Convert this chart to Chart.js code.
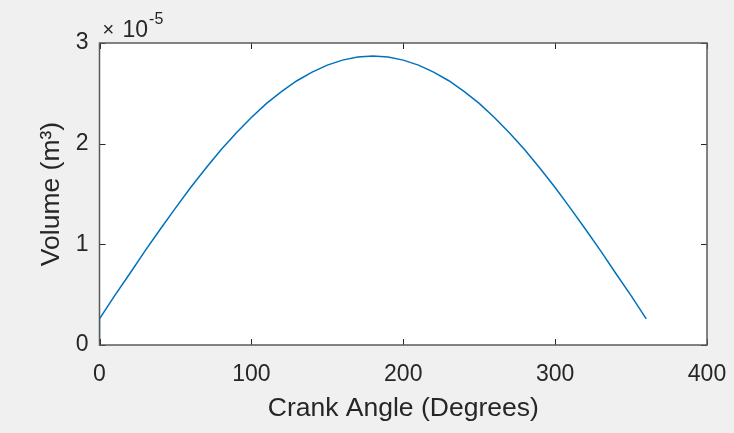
<!DOCTYPE html>
<html>
<head>
<meta charset="utf-8">
<script src="https://cdn.jsdelivr.net/npm/chart.js@4.4.1/dist/chart.umd.min.js"></script>
<style>
  html, body { margin: 0; padding: 0; background: #f0f0f0; }
  #graph1 { display: block; }
</style>
</head>
<body>
<canvas id="graph1" width="734" height="433"></canvas>
<script>
// crank angle in degrees, volume in units of 1e-5 m^3
var angles = [0, 0, 10, 20, 30, 40, 50, 60, 70, 80, 90, 100, 110, 120, 130, 140, 150, 160, 170, 180,
              190, 200, 210, 220, 230, 240, 250, 260, 270, 280, 290, 300, 310, 320, 330, 340, 350, 360];
var volumes = [0, 0.26, 0.49, 0.71, 0.935, 1.15, 1.36, 1.565, 1.755, 1.94, 2.105, 2.26, 2.40, 2.52, 2.625, 2.71, 2.78, 2.83, 2.86, 2.87,
               2.86, 2.83, 2.78, 2.71, 2.625, 2.52, 2.40, 2.26, 2.105, 1.94, 1.755, 1.565, 1.36, 1.15, 0.935, 0.71, 0.49, 0.26];
var xTicks = [0, 100, 200, 300, 400];
var yTicks = [0, 1, 2, 3];

var axisColor = '#262626';
var fontFamily = 'Liberation Sans, Arial, sans-serif';
var tickFont = { family: fontFamily, size: 23 };
var titleFont = { family: fontFamily, size: 26.5 };

var points = angles.map(function (a, i) {
    return { x: a, y: volumes[i] };
});

var matlabAxes = {
    id: 'matlabAxes',
    beforeDraw: function (chart) {
        var ctx = chart.ctx;
        var area = chart.chartArea;
        ctx.save();
        ctx.fillStyle = '#f0f0f0';
        ctx.fillRect(0, 0, chart.width, chart.height);
        ctx.fillStyle = '#ffffff';
        ctx.fillRect(area.left, area.top, area.right - area.left, area.bottom - area.top);
        ctx.restore();
    },
    afterDraw: function (chart) {
        var ctx = chart.ctx;
        var area = chart.chartArea;
        var xs = chart.scales.x;
        var ys = chart.scales.y;
        var len = 6;
        ctx.save();
        ctx.strokeStyle = axisColor;
        ctx.lineWidth = 1;
        ctx.beginPath();
        xTicks.forEach(function (v) {
            var px = Math.round(xs.getPixelForValue(v)) + 0.5;
            ctx.moveTo(px, area.bottom);
            ctx.lineTo(px, area.bottom - len);
            ctx.moveTo(px, area.top);
            ctx.lineTo(px, area.top + len);
        });
        yTicks.forEach(function (v) {
            var py = Math.round(ys.getPixelForValue(v)) + 0.5;
            ctx.moveTo(area.left, py);
            ctx.lineTo(area.left + len, py);
            ctx.moveTo(area.right, py);
            ctx.lineTo(area.right - len, py);
        });
        ctx.stroke();
        ctx.strokeStyle = '#5a5a5a';
        ctx.lineWidth = 1.5;
        ctx.strokeRect(area.left, area.top, area.right - area.left, area.bottom - area.top);

        // exponent label (x10^-5)
        ctx.fillStyle = axisColor;
        ctx.textBaseline = 'alphabetic';
        ctx.textAlign = 'left';
        var base = area.top - 6;
        var x0 = area.left + 3;
        ctx.font = '20px ' + fontFamily;
        ctx.fillText('\u00d7', x0, base - 1);
        ctx.font = '23px ' + fontFamily;
        ctx.fillText('10', x0 + 20, base);
        var w = ctx.measureText('10').width;
        ctx.font = '16px ' + fontFamily;
        ctx.fillText('-5', x0 + 21 + w, base - 13);
        ctx.restore();
    }
};

var context = document.getElementById('graph1').getContext('2d');
var chart = new Chart(context, {
    type: 'line',
    data: {
        datasets: [
            {
                data: points,
                borderColor: '#0072BD',
                borderWidth: 1.5,
                pointRadius: 0,
                tension: 0,
                fill: false
            }
        ]
    },
    options: {
        responsive: false,
        animation: false,
        layout: { padding: { left: 0, right: 27, top: 43, bottom: 0 } },
        plugins: {
            legend: { display: false },
            tooltip: { enabled: false }
        },
        scales: {
            x: {
                type: 'linear',
                min: 0,
                max: 400,
                afterBuildTicks: function (scale) {
                    scale.ticks = xTicks.map(function (v) { return { value: v }; });
                },
                afterFit: function (scale) {
                    scale.height = 88;
                    scale.paddingLeft = 0;
                    scale.paddingRight = 0;
                },
                grid: { display: false, drawTicks: false },
                border: { display: false },
                ticks: { color: axisColor, font: tickFont, padding: 16, maxRotation: 0 },
                title: {
                    display: true,
                    text: 'Crank Angle (Degrees)',
                    color: axisColor,
                    font: titleFont,
                    padding: { top: 0, bottom: 8 }
                }
            },
            y: {
                type: 'linear',
                min: 0,
                max: 3,
                afterBuildTicks: function (scale) {
                    scale.ticks = yTicks.map(function (v) { return { value: v }; });
                },
                afterFit: function (scale) {
                    scale.width = 99.5;
                    scale.paddingTop = 0;
                    scale.paddingBottom = 0;
                },
                grid: { display: false, drawTicks: false },
                border: { display: false },
                ticks: { color: axisColor, font: tickFont, padding: 11 },
                title: {
                    display: true,
                    text: 'Volume (m\u00b3)',
                    color: axisColor,
                    font: titleFont,
                    padding: { top: 36, bottom: 0 }
                }
            }
        }
    },
    plugins: [matlabAxes]
});
</script>
</body>
</html>
